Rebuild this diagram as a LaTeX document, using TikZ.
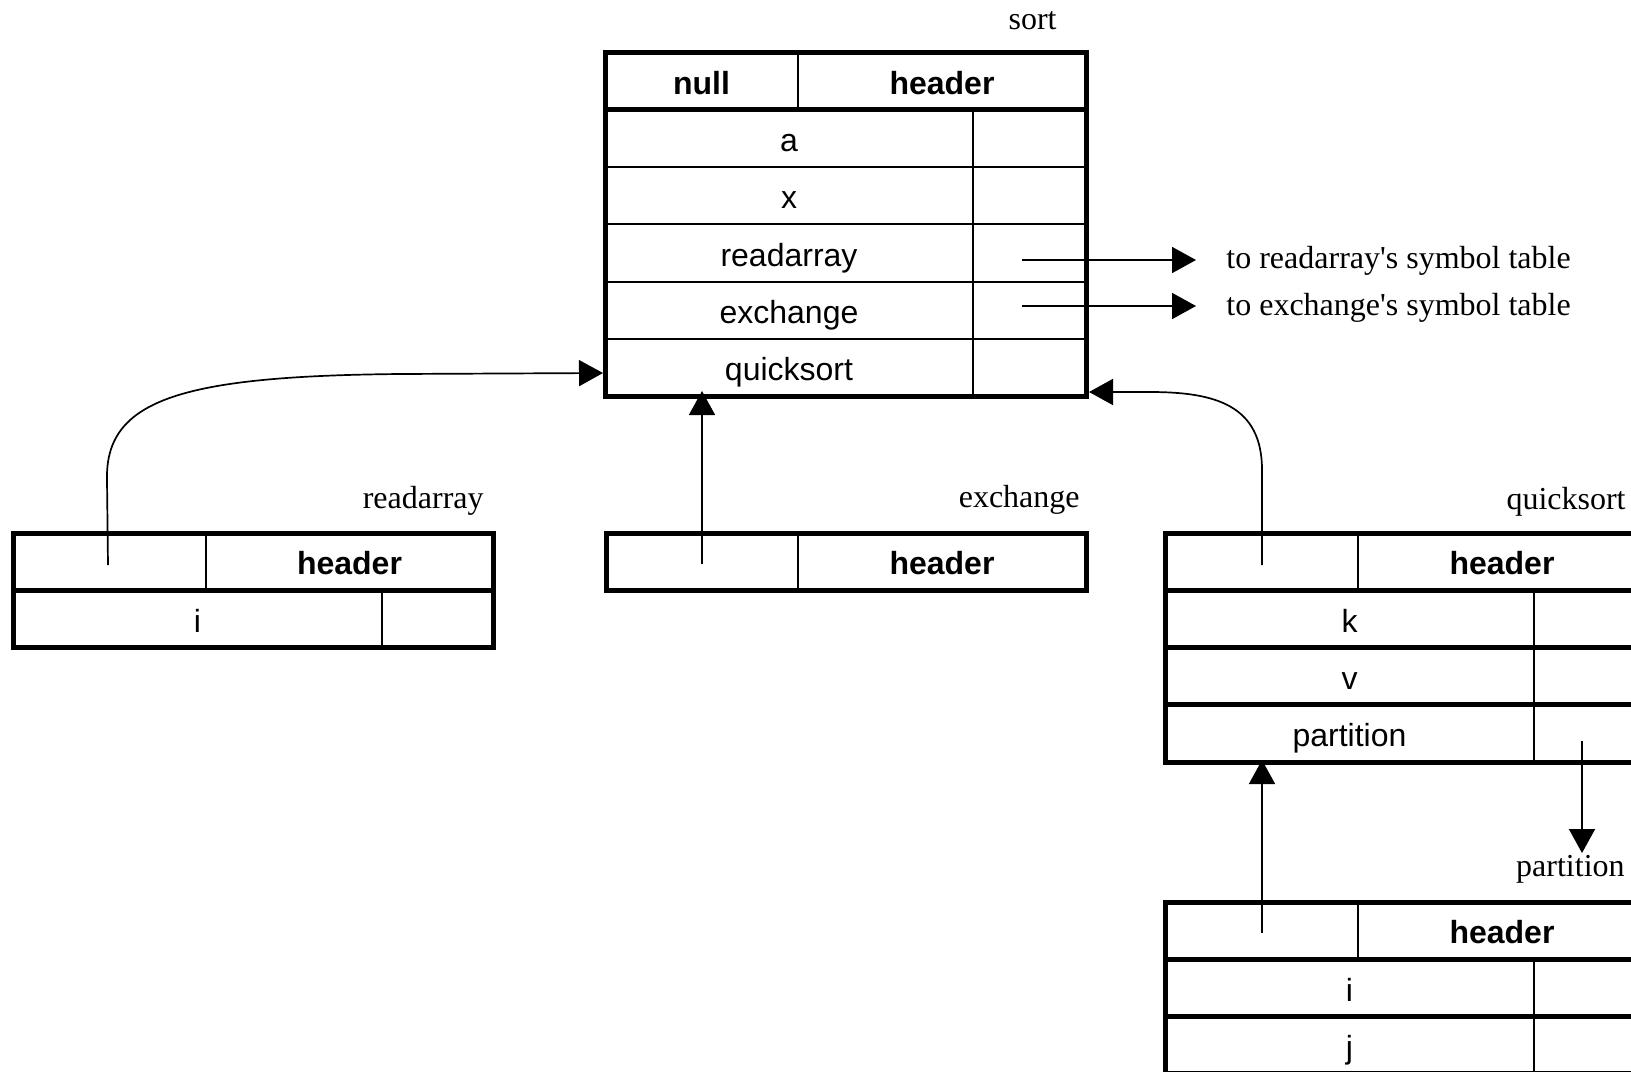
\documentclass[tikz,border=0pt]{standalone}
\usepackage{fontspec}
\setmainfont{Liberation Serif}
\setsansfont{Liberation Sans}
\usetikzlibrary{arrows.meta}
\begin{document}
\begin{tikzpicture}[x=0.5pt,y=-0.5pt,
  tborder/.style={line width=2.5pt},
  trule/.style={line width=1pt},
  conn/.style={line width=0.85pt, -{Triangle[length=12pt,width=13pt]}},
  plainline/.style={line width=0.85pt},
  cell/.style={font=\sffamily\fontsize{16}{19}\selectfont, anchor=base, inner sep=0pt},
  hcell/.style={font=\sffamily\bfseries\fontsize{16}{19}\selectfont, anchor=base, inner sep=0pt},
  lbl/.style={font=\rmfamily\fontsize{16}{19}\selectfont, inner sep=0pt}]
\useasboundingbox (0,0) rectangle (1631,1071);
\clip (0,0) rectangle (1631,1071);

% ---------- sort table ----------
\draw[trule] (798,52.5) -- (798,109.8);
\draw[trule] (973,109.8) -- (973,396.3);
\draw[trule] (605,167.1) -- (1086,167.1);
\draw[trule] (605,224.4) -- (1086,224.4);
\draw[trule] (605,281.7) -- (1086,281.7);
\draw[trule] (605,339) -- (1086,339);
\draw[tborder] (605,109.8) -- (1086,109.8);
\draw[tborder] (605,52.5) rectangle (1086,396.3);
\node[hcell] (sNull) at (701.5,94) {null};
\node[hcell] (sHead) at (942,94) {header};
\node[cell] (sA) at (789,151.5) {a};
\node[cell] (sX) at (789,208.8) {x};
\node[cell] (sRead) at (789,266) {readarray};
\node[cell] (sExch) at (789,323.4) {exchange};
\node[cell] (sQuick) at (789,380.7) {quicksort};
\node[lbl, anchor=base east] (lSort) at (1057,29) {sort};

% ---------- readarray table ----------
\draw[trule] (206,533) -- (206,590.3);
\draw[trule] (382,590.3) -- (382,647.6);
\draw[tborder] (13,590.3) -- (493,590.3);
\draw[tborder] (13,533) rectangle (493,647.6);
\node[hcell] (rHead) at (349.5,574.7) {header};
\node[cell] (rI) at (197.5,632) {i};
\node[lbl, anchor=base east] (lRead) at (484,508) {readarray};

% ---------- exchange table ----------
\draw[trule] (798,533) -- (798,590.3);
\draw[tborder] (606,533) rectangle (1086,590.3);
\node[hcell] (eHead) at (942,574.7) {header};
\node[lbl, anchor=base east] (lExch) at (1080,507) {exchange};

% ---------- quicksort table ----------
\draw[trule] (1358,533) -- (1358,590.3);
\draw[trule] (1534,590.3) -- (1534,762.2);
\draw[tborder] (1165,590.3) -- (1646,590.3);
\draw[tborder] (1165,647.6) -- (1646,647.6);
\draw[tborder] (1165,704.9) -- (1646,704.9);
\draw[tborder] (1165,533) rectangle (1646,762.2);
\node[hcell] (qHead) at (1502,574.7) {header};
\node[cell] (qK) at (1349.5,632) {k};
\node[cell] (qV) at (1349.5,689.3) {v};
\node[cell] (qPart) at (1349.5,746.6) {partition};
\node[lbl, anchor=base east] (lQuick) at (1626,509) {quicksort};

% ---------- partition table ----------
\draw[trule] (1358,902) -- (1358,959.3);
\draw[trule] (1534,959.3) -- (1534,1073.9);
\draw[tborder] (1165,959.3) -- (1646,959.3);
\draw[tborder] (1165,1016.6) -- (1646,1016.6);
\draw[tborder] (1165,902) rectangle (1646,1073.9);
\node[hcell] (pHead) at (1502,943.7) {header};
\node[cell] (pI) at (1349.5,1001) {i};
\node[cell] (pJ) at (1349.5,1058.3) {j};
\node[lbl, anchor=base east] (lPart) at (1625,876) {partition};

% ---------- outside labels ----------
\node[lbl, anchor=base west] (tRead) at (1226,268) {to readarray\textquotesingle s symbol table};
\node[lbl, anchor=base west] (tExch) at (1226,315) {to exchange\textquotesingle s symbol table};

% ---------- connector coordinates ----------
\coordinate (raStart) at (108,565);
\coordinate (sortW) at (603,373);
\coordinate (exStart) at (702,564);
\coordinate (sortS) at (702,391);
\coordinate (qsStart) at (1262,565);
\coordinate (sortE) at (1089,392);
\coordinate (symRaStart) at (1022,260);
\coordinate (symRaEnd) at (1196,260);
\coordinate (symExStart) at (1022,306);
\coordinate (symExEnd) at (1196,306);
\coordinate (qpStart) at (1582,741);
\coordinate (qpEnd) at (1582,853);
\coordinate (ptStart) at (1262,933);
\coordinate (qsS) at (1262,760);

% ---------- connectors ----------
\draw[conn] (raStart) -- (107,480) .. controls (105,400) and (180,376) .. (400,374) -- (sortW);
\draw[conn] (exStart) -- (sortS);
\draw[conn] (qsStart) -- (1262,470) .. controls (1262,405) and (1215,392) .. (1150,392) -- (sortE);
\draw[conn] (symRaStart) -- (symRaEnd);
\draw[conn] (symExStart) -- (symExEnd);
\draw[conn] (qpStart) -- (qpEnd);
\draw[conn] (ptStart) -- (qsS);
\end{tikzpicture}
\end{document}
